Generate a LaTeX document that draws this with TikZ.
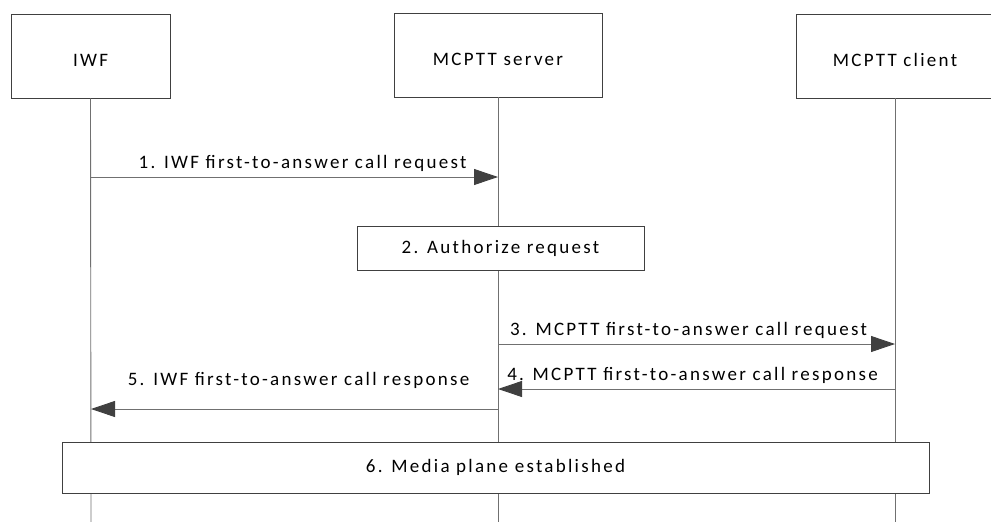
\documentclass[tikz,border=0pt]{standalone}
\usepackage{fontspec}
\setmainfont{Carlito}[LetterSpace=12]
\usetikzlibrary{arrows.meta,positioning}
\definecolor{ink}{HTML}{404040}
\definecolor{life}{HTML}{707070}
\tikzset{
  >={Triangle[length=24pt,width=16pt,color=ink]},
  every node/.style={font=\fontsize{19}{22}\selectfont,text=black},
  entity/.style={draw=ink,line width=0.9pt,minimum height=84pt,inner sep=0pt,align=center,text height=20pt,text depth=0pt},
  action/.style={draw=ink,line width=0.9pt,fill=white,inner sep=0pt,align=center},
  lifeline/.style={draw=life,line width=0.9pt},
  msg/.style={->,draw=life,line width=0.9pt},
  msglabel/.style={inner sep=2pt,anchor=south},
}

\begin{document}
\begin{tikzpicture}[x=1pt,y=-1pt]
\useasboundingbox (0,0) rectangle (991,522);

% entities
\node[entity,minimum width=159pt] (iwf) at (90.5,56) {IWF};
\node[entity,minimum width=208pt] (server) at (498,55) {MCPTT server};
\node[entity,minimum width=198pt] (client) at (895,56) {MCPTT client};

% lifeline ends
\coordinate (iwfend) at (91,522);
\coordinate (serverend) at (498,522);
\coordinate (clientend) at (895,522);
\draw[lifeline] (iwf.south) -- (iwfend);
\draw[lifeline] (server.south) -- (serverend);
\draw[lifeline] (client.south) -- (clientend);

% message points
\coordinate (iwf1) at (91,177);
\coordinate (server1) at (498,177);
\coordinate (server3) at (498,344);
\coordinate (client3) at (895,344);
\coordinate (server4) at (498,389);
\coordinate (client4) at (895,389);
\coordinate (server5) at (498,409);
\coordinate (iwf5) at (91,409);

% 1
\draw[msg] (iwf1) -- node[msglabel,pos=0.52,yshift=3pt] {1. IWF first-to-answer call request} (server1);

% 2
\node[action,minimum width=287pt,minimum height=44pt] (auth) at (500.5,248) {2. Authorize request};

% 3 and 4
\draw[msg] (server3) -- node[msglabel,pos=0.48,yshift=3pt] {3. MCPTT first-to-answer call request} (client3);
\draw[msg] (client4) -- node[msglabel,pos=0.51,yshift=3pt] {4. MCPTT first-to-answer call response} (server4);

% 5
\draw[msg] (server5) -- node[msglabel,pos=0.49,yshift=18pt] {5. IWF first-to-answer call response} (iwf5);

% 6
\node[action,minimum width=867pt,minimum height=51pt] (media) at (495.5,467.5) {6. Media plane established};

\end{tikzpicture}
\end{document}
